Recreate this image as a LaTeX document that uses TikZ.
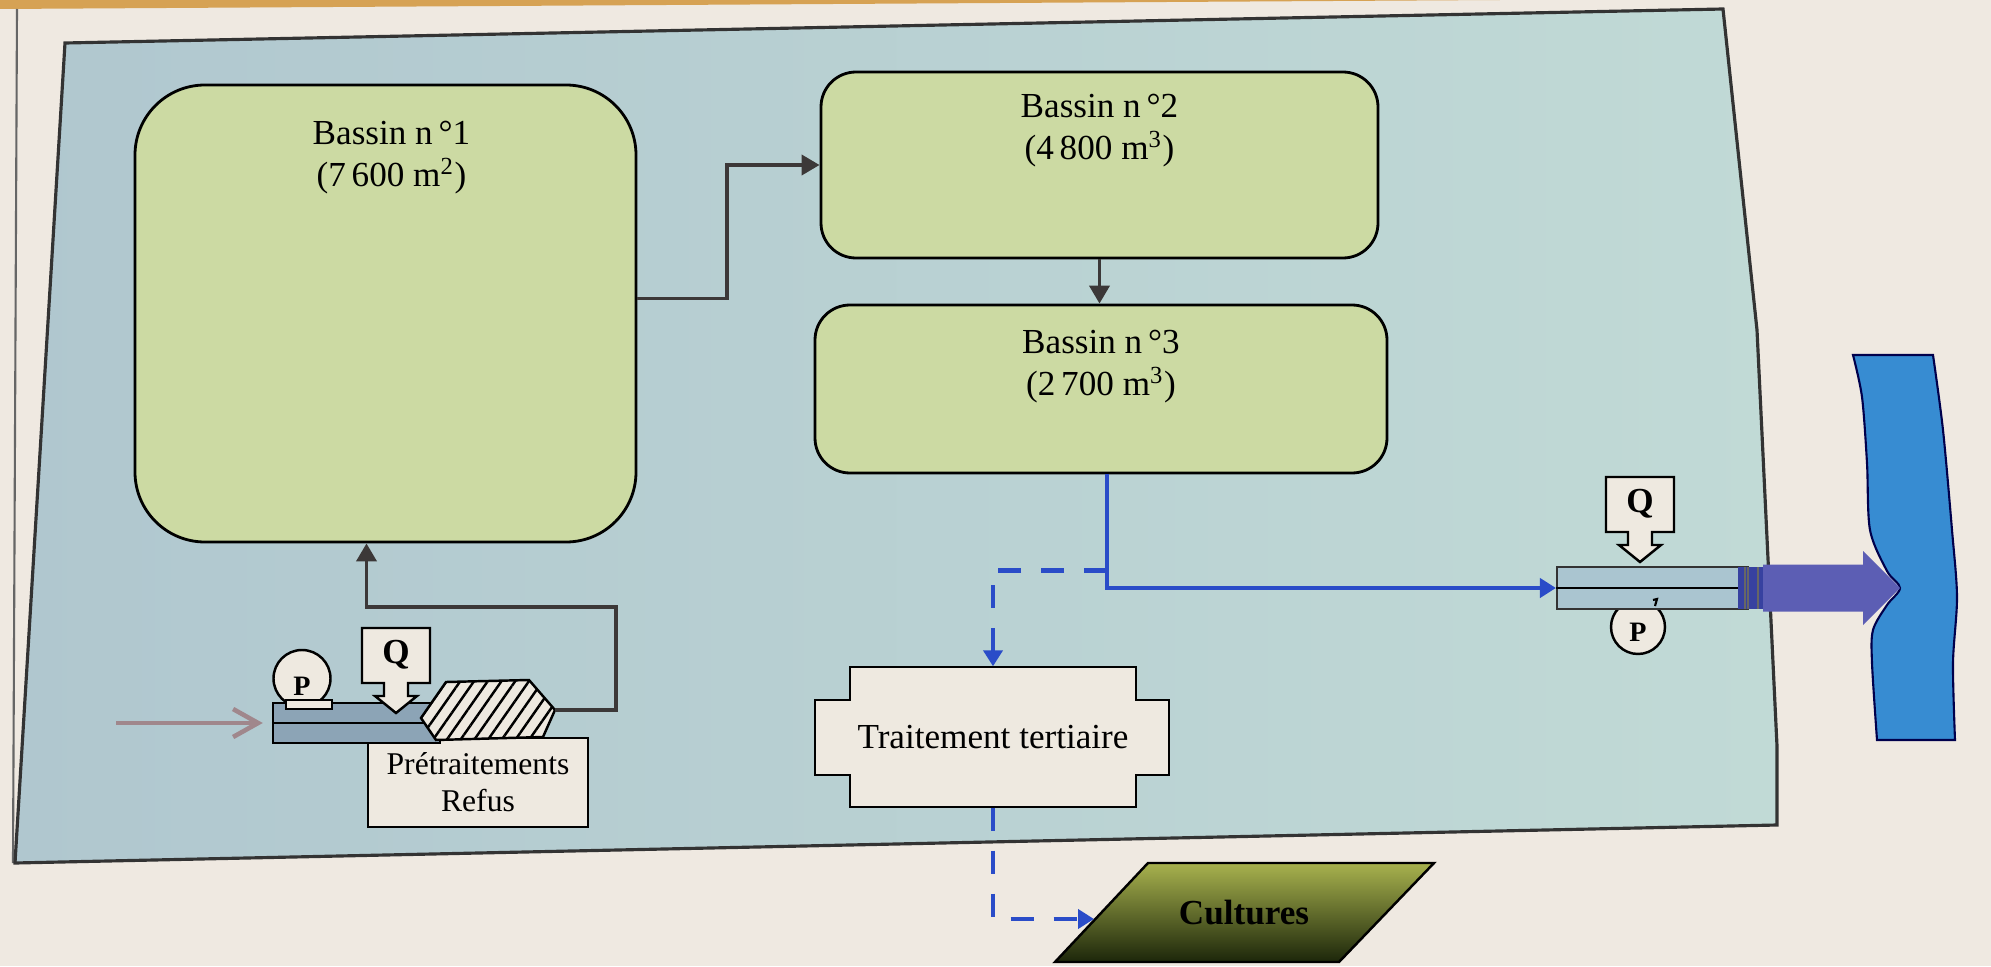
\documentclass[tikz,border=0pt]{standalone}
\usepackage{fontspec}
\setmainfont{Liberation Serif}
\usetikzlibrary{arrows.meta,patterns.meta}

\definecolor{papier}{RGB}{239,233,225}
\definecolor{bande}{RGB}{214,162,84}
\definecolor{fond1}{RGB}{176,199,207}
\definecolor{fond2}{RGB}{193,218,214}
\definecolor{vert}{RGB}{204,218,163}
\definecolor{creme}{RGB}{238,233,224}
\definecolor{tuyau}{RGB}{140,164,182}
\definecolor{tuyau2}{RGB}{170,197,208}
\definecolor{bleu}{RGB}{42,76,200}
\definecolor{trait}{RGB}{60,56,56}
\definecolor{rose}{RGB}{160,135,140}
\definecolor{rejet}{RGB}{92,94,180}
\definecolor{rejet2}{RGB}{55,65,160}
\definecolor{riviere}{RGB}{55,140,210}
\definecolor{olive}{RGB}{168,178,78}
\definecolor{olive1}{RGB}{105,120,40}
\definecolor{olive2}{RGB}{28,38,10}

\begin{document}
\begin{tikzpicture}[
	bassin/.style={draw=black, line width=0.8pt, fill=vert, rounded corners=0.35cm},
	boite/.style={draw=black, line width=0.7pt, fill=creme},
	txt/.style={align=center, inner sep=0pt},
	darr/.style={draw=trait, line width=1.1pt, -{Triangle[length=1.8mm,width=2mm]}},
	barr/.style={draw=bleu, line width=1.4pt, -{Triangle[length=1.6mm,width=1.9mm]}},
	tir/.style={barr, dash pattern=on 0.23cm off 0.2cm}]

\useasboundingbox (0,0) rectangle (19.91,9.66);
\fill[papier] (0,0) rectangle (19.91,9.66);

% Page
\fill[bande] (0,9.66) -- (15,9.66) -- (0,9.57) -- cycle;
\draw[black!60, line width=0.6pt] (0.17,9.57) -- (0.13,1.03);
\shadedraw[left color=fond1, right color=fond2, draw=black!80, line width=0.9pt]
	(0.65,9.23) -- (17.23,9.57) -- (17.57,6.36) -- (17.77,2.2) -- (17.77,1.41)
	-- (0.15,1.03) -- cycle;

% Bassins
\node[bassin, rounded corners=0.7cm, minimum width=5.01cm, minimum height=4.57cm] (b1) at (3.855,6.525) {};
\node[bassin, minimum width=5.57cm, minimum height=1.86cm] (b2) at (10.995,8.01) {};
\node[bassin, minimum width=5.72cm, minimum height=1.68cm] (b3) at (11.01,5.77) {};

\node[txt, anchor=north] (t1) at ([xshift=0.6mm, yshift=-3.7mm]b1.north) {Bassin n\,°1\\(7\,600 m\textsuperscript{2})};
\node[txt, anchor=north] (t2) at ([yshift=-2.3mm]b2.north) {Bassin n\,°2\\(4\,800 m\textsuperscript{3})};
\node[txt, anchor=north] (t3) at ([yshift=-2.6mm]b3.north) {Bassin n\,°3\\(2\,700 m\textsuperscript{3})};

\draw[darr] ([yshift=1.5mm]b1.east) -- ++(0.9,0) |- (b2.west);
\draw[darr] (b2.south) -- (b2.south |- b3.north);

% Pretraitements
\node[boite, minimum width=2.2cm, minimum height=0.89cm, align=center, font=\fontsize{9}{10.5}\selectfont] (pret) at (4.78,1.835) {Prétraitements\\Refus};

\node[draw=black, line width=0.7pt, fill=tuyau, minimum width=1.67cm, minimum height=0.40cm, inner sep=0pt] (pl) at (3.565,2.43) {};
\draw[line width=0.7pt] (pl.west) -- (pl.east);

\draw[line width=0.7pt, fill=creme, postaction={pattern={Lines[angle=55,distance=3.2pt,line width=0.7pt]}}]
	(4.21,2.48) -- (4.46,2.84) -- (5.29,2.86) -- (5.55,2.56) -- (5.43,2.29) -- (4.36,2.26) -- cycle;
\coordinate (hex) at (5.55,2.56);

\node[boite, circle, minimum size=0.57cm, inner sep=0pt] (pa) at (3.02,2.875) {};
\node[boite, minimum width=0.46cm, minimum height=0.09cm, inner sep=0pt] (pa-base) at (3.09,2.615) {};
\node[font=\bfseries\fontsize{8}{9}\selectfont] (pa-t) at (3.02,2.80) {P};

\coordinate (entree) at (1.16,2.43);
\draw[rose, line width=1.3pt, -{Straight Barb[length=2.5mm,width=2.8mm]}, shorten >=0.9mm] (entree) -- (pl.west);

\draw[darr] (hex) -- ++(0.61,0) -- ++(0,1.03) -| ([xshift=-1.9mm]b1.south);

% Rejet
\draw[draw=black!70!blue, fill=riviere, line width=0.6pt]
	plot[smooth] coordinates {(18.77,2.26) (18.72,3.03) (18.73,3.36) (18.87,3.61) (19.00,3.78) (18.87,3.95) (18.70,4.36) (18.67,5.03) (18.62,5.69) (18.53,6.11)}
	-- plot[smooth] coordinates {(19.33,6.11) (19.43,5.36) (19.52,4.36) (19.57,3.69) (19.53,3.03) (19.55,2.26)} -- cycle;

\node[boite, circle, minimum size=0.54cm, inner sep=0pt] (pb) at (16.38,3.39) {};
\node[font=\bfseries\fontsize{8}{9}\selectfont] (pb-t) at (16.38,3.34) {P};

\node[draw=black!80, line width=0.6pt, fill=tuyau2, minimum width=1.91cm, minimum height=0.42cm, inner sep=0pt] (pr) at (16.525,3.78) {};
\draw[line width=0.6pt] (pr.west) -- (pr.east);
\draw[line width=0.6pt] (16.55,3.60) -- (16.57,3.67) -- (16.53,3.66);

\fill[rejet2] (17.38,3.57) rectangle (17.63,3.99);
\foreach \x in {17.45, 17.48, 17.58}
	\draw[black!60, line width=0.4pt] (\x,3.57) -- (\x,3.99);
\fill[rejet] (17.63,3.545) -- (18.63,3.545) -- (18.63,3.41) -- (19.00,3.78)
	-- (18.63,4.15) -- (18.63,4.015) -- (17.63,4.015) -- cycle;

% Debitmetres
\foreach \qx/\qy/\qn in {3.96/3.38/qa, 16.40/4.89/qb} {
	\draw[boite] (\qx-0.34,\qy) -- ++(0.68,0) -- ++(0,-0.55) -- ++(-0.22,0) -- ++(0,-0.13) -- ++(0.09,0)
		-- ++(-0.21,-0.17) -- ++(-0.21,0.17) -- ++(0.09,0) -- ++(0,0.13) -- ++(-0.22,0) -- cycle;
	\node[font=\bfseries] (\qn) at (\qx,\qy-0.27) {Q};
}

% Traitement tertiaire
\draw[boite] (8.50,2.99) -- (11.36,2.99) -- (11.36,2.66) -- (11.69,2.66) -- (11.69,1.91) -- (11.36,1.91)
	-- (11.36,1.59) -- (8.50,1.59) -- (8.50,1.91) -- (8.15,1.91) -- (8.15,2.66) -- (8.50,2.66) -- cycle;
\node[txt, minimum width=2.86cm, minimum height=1.40cm] (tt) at (9.93,2.29) {Traitement tertiaire};

% Cultures
\shadedraw[draw=black, line width=0.7pt, top color=olive, middle color=olive1, bottom color=olive2]
	(11.48,1.03) -- (14.34,1.03) -- (13.39,0.04) -- (10.55,0.04) -- cycle;
\node[font=\bfseries] (cult) at (12.44,0.53) {Cultures};
\coordinate (cl) at (10.94,0.47);

% Eau traitee
\coordinate (s3) at ([xshift=0.6mm]b3.south);
\coordinate (j) at ([yshift=-9.6mm]s3);
\draw[barr] (s3) |- (pr.west);
\draw[tir] (j) -| (tt.north);
\draw[tir] (tt.south) |- (cl);

\end{tikzpicture}
\end{document}
